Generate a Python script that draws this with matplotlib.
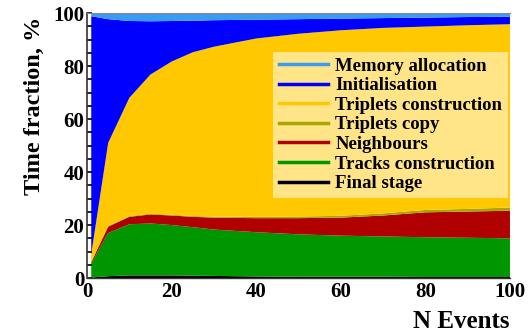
import matplotlib
matplotlib.use("Agg")
import matplotlib.pyplot as plt
from matplotlib.lines import Line2D
from matplotlib.ticker import MultipleLocator

# Number of processed events per batch
n_events = [1, 5, 10, 15, 20, 25, 30, 40, 50, 60, 70, 80, 90, 100]

# Fraction of total time (%) spent in each stage
final_stage = [0.2, 0.7, 1.0, 1.0, 1.0, 0.9, 0.8, 0.6, 0.5, 0.5, 0.5, 0.4, 0.4, 0.4]
tracks_construction = [5.3, 16.3, 19.3, 19.6, 19.0, 18.3, 17.5, 16.7, 16.0, 15.5, 15.2, 15.0, 14.8, 14.6]
neighbours = [0.5, 2.4, 2.8, 3.4, 3.6, 3.9, 4.5, 5.3, 6.1, 6.8, 7.9, 9.4, 9.9, 10.4]
triplets_copy = [0.2, 0.3, 0.3, 0.3, 0.3, 0.3, 0.4, 0.5, 0.6, 0.7, 0.8, 0.9, 1.0, 1.2]
triplets_construction = [2.8, 31.3, 44.6, 52.5, 57.8, 61.8, 64.1, 67.3, 69.0, 70.0, 70.0, 69.2, 69.3, 69.2]
initialisation = [89.8, 46.7, 29.0, 20.1, 15.3, 11.9, 10.0, 7.1, 5.5, 4.4, 3.7, 3.4, 3.1, 2.8]
memory_allocation = [1.2, 2.3, 3.0, 3.1, 3.0, 2.9, 2.7, 2.5, 2.3, 2.1, 1.9, 1.7, 1.5, 1.4]

stage_names = ["Memory allocation", "Initialisation", "Triplets construction",
               "Triplets copy", "Neighbours", "Tracks construction", "Final stage"]
stage_colors = ["#3a9cf0", "#0000ff", "#ffc800", "#a8a800", "#b00000", "#009600", "#000000"]

plt.rcParams["font.family"] = ["Liberation Serif", "DejaVu Serif"]
plt.rcParams["font.weight"] = "bold"

fig = plt.figure(figsize=(5.29, 3.35), dpi=100)
ax = fig.add_axes([0.1645, 0.170, 0.7995, 0.791])

stack = [final_stage, tracks_construction, neighbours, triplets_copy,
         triplets_construction, initialisation, memory_allocation]
ax.stackplot(n_events, stack, colors=stage_colors[::-1], linewidth=0)

ax.set_xlim(0, 100)
ax.set_ylim(0, 100)
ax.xaxis.set_major_locator(MultipleLocator(20))
ax.yaxis.set_major_locator(MultipleLocator(20))
ax.yaxis.set_minor_locator(MultipleLocator(5))
ax.tick_params(axis="y", which="both", direction="in", length=3.5, width=1.2,
               labelsize=15, pad=2)
ax.tick_params(axis="x", which="both", length=0, labelsize=15, pad=3)
for lab in ax.get_xticklabels() + ax.get_yticklabels():
    lab.set_fontweight("bold")

ax.spines["left"].set_color("#333333")
ax.spines["left"].set_linewidth(1.2)
ax.spines["bottom"].set_color("#333333")
ax.spines["bottom"].set_linewidth(1.0)
ax.spines["top"].set_color("#888888")
ax.spines["top"].set_linewidth(0.8)
ax.spines["right"].set_visible(False)

ax.set_ylabel("Time fraction, %", fontsize=17.5, fontweight="bold")
ax.yaxis.set_label_coords(-0.10, 0.65)
fig.text(0.964, 0.021, "N Events", ha="right", va="baseline",
         fontsize=18, fontweight="bold")

handles = [Line2D([0], [0], color=c, lw=2.5) for c in stage_colors]
leg = ax.legend(handles, stage_names, loc="upper right",
                bbox_to_anchor=(0.995, 0.853), frameon=True,
                prop={"size": 13.5, "weight": "bold"},
                handlelength=2.6, handletextpad=0.4, labelspacing=0.13,
                borderpad=0.3, borderaxespad=0.0)
frame = leg.get_frame()
frame.set_facecolor("#ffe488")
frame.set_edgecolor("none")
frame.set_alpha(1.0)
frame.set_boxstyle("square", pad=0.0)

fig.savefig("out.png", dpi=100)
